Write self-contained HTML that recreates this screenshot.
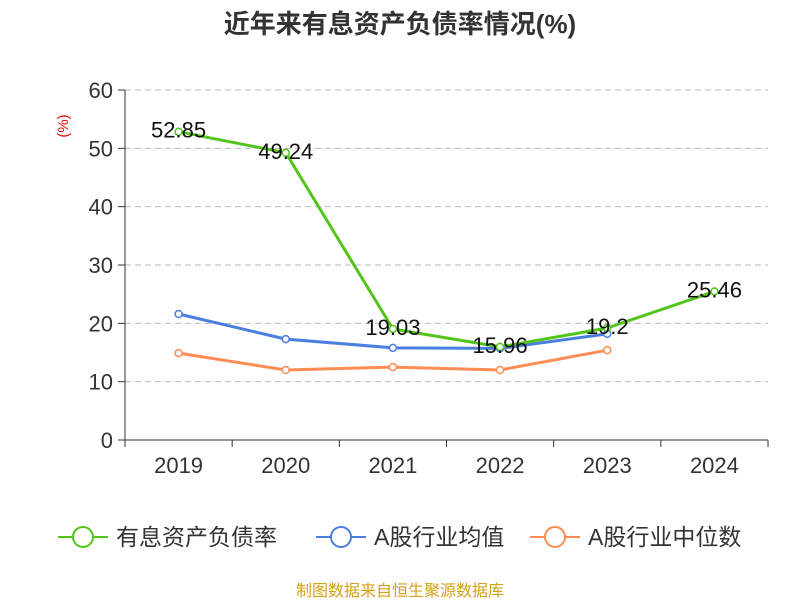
<!DOCTYPE html>
<html><head><meta charset="utf-8"><style>
body{margin:0;background:#fff;}
svg text{font-family:"Liberation Sans","Noto Sans CJK SC",sans-serif;}
</style></head><body>
<svg id="chart" width="800" height="600" xmlns="http://www.w3.org/2000/svg">
<text x="400" y="33" text-anchor="middle" font-size="26" font-weight="bold" fill="#333">近年来有息资产负债率情况(%)</text>
<text x="68" y="126" text-anchor="middle" font-size="15" fill="#e00" transform="rotate(-90 68 126)">(%)</text>
<g id="grid"></g><g id="axes"></g><g id="series"></g>
<g id="legend"></g>
<text x="400" y="596" text-anchor="middle" font-size="16" fill="#d4a017">制图数据来自恒生聚源数据库</text>
</svg>
<script>
const categories=["2019","2020","2021","2022","2023","2024"];
const yTicks=[0,10,20,30,40,50,60];
const mainValues=[52.85,49.24,19.03,15.96,19.2,25.46];
const mainLabels=["52.85","49.24","19.03","15.96","19.2","25.46"];
const avgValues=[21.6,17.3,15.8,15.7,18.2];
const medianValues=[14.9,12.0,12.5,12.0,15.4];
const seriesNames=["有息资产负债率","A股行业均值","A股行业中位数"];
const colors=["#52c41a","#4a7fdf","#ff8c55"];
const NS="http://www.w3.org/2000/svg";
const x0=125,x1=768,y0=440,y1=90;
const bw=(x1-x0)/categories.length;
const xs=i=>x0+bw*(i+0.5);
const ys=v=>y0-(v/60)*(y0-y1);
function mk(tag,attrs,parent){const e=document.createElementNS(NS,tag);for(const k in attrs)e.setAttribute(k,attrs[k]);parent.appendChild(e);return e;}
const grid=document.getElementById('grid'),axes=document.getElementById('axes'),ser=document.getElementById('series'),leg=document.getElementById('legend');
yTicks.forEach(t=>{
 const y=ys(t);
 if(t>0){const l=mk('line',{x1:x0,x2:x1,y1:y,y2:y,stroke:'#bbb','stroke-dasharray':'6,4'},grid);
 
 }
 const tk=mk('line',{x1:x0-7,x2:x0,y1:y,y2:y,stroke:'#333'},axes);
 
 
 const tx=mk('text',{x:x0-12,y:y+8,'text-anchor':'end','font-size':22,fill:'#333'},axes);tx.textContent=t;
 
 
});
const ya=mk('line',{x1:x0,x2:x0,y1:y1,y2:y0,stroke:'#333'},axes);


const xa=mk('line',{x1:x0,x2:x1,y1:y0,y2:y0,stroke:'#333'},axes);


for(let i=0;i<=categories.length;i++){const t=mk('line',{x1:x0+bw*i,x2:x0+bw*i,y1:y0,y2:y0+7,stroke:'#333'},axes);
 
 }
categories.forEach((c,i)=>{const t=mk('text',{x:xs(i),y:y0+33,'text-anchor':'middle','font-size':22,fill:'#333'},axes);t.textContent=c;
 
 });
function drawSeries(vals,color,name){
 const g=mk('g',{},ser);
 
 
 const p=mk('polyline',{points:vals.map((v,i)=>xs(i)+','+ys(v)).join(' '),fill:'none',stroke:color,'stroke-width':3},g);
 
 
 vals.forEach((v,i)=>{const c=mk('circle',{cx:xs(i),cy:ys(v),r:3.5,fill:'#fff',stroke:color,'stroke-width':1.5},g);
 
 });
 return g;
}
drawSeries(medianValues,colors[2],'median-series');
drawSeries(avgValues,colors[1],'average-series');
const mg=drawSeries(mainValues,colors[0],'debt-ratio-series');
mainValues.forEach((v,i)=>{const t=mk('text',{x:xs(i),y:ys(v)+6,'text-anchor':'middle','font-size':22,fill:'#111'},mg);t.textContent=mainLabels[i];
 
 });
const lx=[58,316,530];
seriesNames.forEach((n,i)=>{
 const g=mk('g',{},leg);
 
 
 mk('line',{x1:lx[i],x2:lx[i]+50,y1:537,y2:537,stroke:colors[i],'stroke-width':2},g);
 mk('circle',{cx:lx[i]+25,cy:537,r:10,fill:'#fff',stroke:colors[i],'stroke-width':2},g);
 const t=mk('text',{x:lx[i]+58,y:545,'font-size':23,fill:'#333'},g);t.textContent=n;
});
</script>
</body></html>
